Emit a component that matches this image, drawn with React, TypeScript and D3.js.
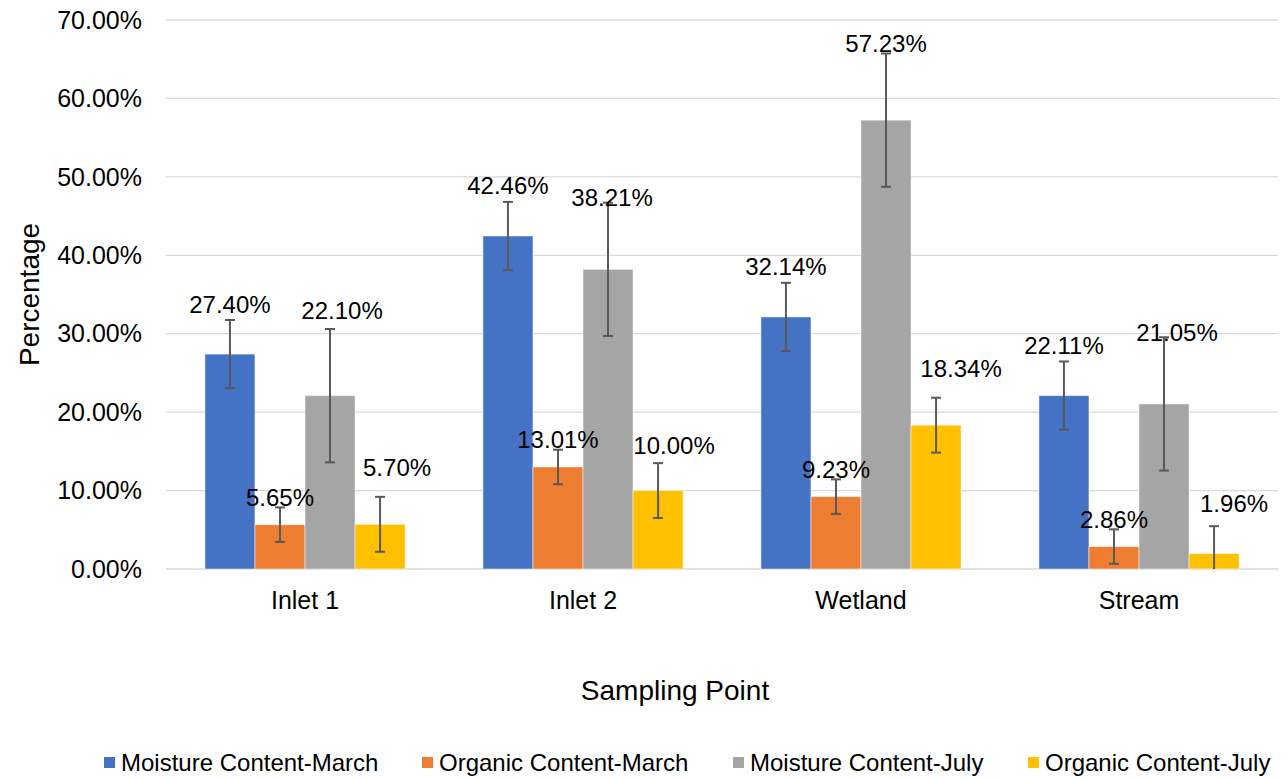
import React from "react";
import * as d3 from "d3";

const categories = ["Inlet 1", "Inlet 2", "Wetland", "Stream"];
const seriesNames = [
  "Moisture Content-March",
  "Organic Content-March",
  "Moisture Content-July",
  "Organic Content-July",
];
const moistureMarch = [27.4, 42.46, 32.14, 22.11];
const organicMarch = [5.65, 13.01, 9.23, 2.86];
const moistureJuly = [22.1, 38.21, 57.23, 21.05];
const organicJuly = [5.7, 10.0, 18.34, 1.96];
const errMoistureMarch = [4.35, 4.35, 4.35, 4.35];
const errOrganicMarch = [2.2, 2.2, 2.2, 2.2];
const errMoistureJuly = [8.5, 8.5, 8.5, 8.5];
const errOrganicJuly = [3.5, 3.5, 3.5, 3.5];
const yTicks = [0, 10, 20, 30, 40, 50, 60, 70];

const seriesValues = [moistureMarch, organicMarch, moistureJuly, organicJuly];
const seriesErrors = [errMoistureMarch, errOrganicMarch, errMoistureJuly, errOrganicJuly];
const colors = ["#4472C4", "#ED7D31", "#A5A5A5", "#FFC000"];

// label nudges (pixels) relative to the bar top centre: [dx, dy] per series per category
const labelNudge = [
  [[0, -50], [0, -50], [0, -50], [0, -50]],
  [[0, -27], [0, -27], [0, -27], [0, -27]],
  [[12, -85], [4, -72], [0, -77], [13, -71]],
  [[17, -57], [16, -45], [25, -57], [20, -50]],
];

export default function App() {
  const W = 1288, H = 779;
  const left = 166, right = 1278, top = 20, bottom = 569;
  const y = d3.scaleLinear().domain([0, 70]).range([bottom, top]);
  const x0 = d3.scaleBand<string>().domain(categories).range([left, right]).paddingInner(0.28).paddingOuter(0.14);
  const x1 = d3.scaleBand<number>().domain([0, 1, 2, 3]).range([0, x0.bandwidth()]).padding(0);
  const font = "'Liberation Sans', Arial, sans-serif";

  const legendX = [104, 422, 733, 1028];

  return (
    <svg width={W} height={H} style={{ position: "absolute", left: 0, top: 0, background: "#fff" }} fontFamily={font}>
      {yTicks.map((t) => (
        <g key={t}>
          <line x1={left} x2={right} y1={y(t)} y2={y(t)} stroke="#D9D9D9" strokeWidth={1.3} />
          <text x={142} y={y(t)} dy="0.35em" textAnchor="end" fontSize={25} fill="#000">
            {t.toFixed(2)}%
          </text>
        </g>
      ))}
      {categories.map((c, ci) => (
        <g key={c}>
          {seriesValues.map((vals, si) => {
            const bx = (x0(c) as number) + (x1(si) as number);
            const bw = x1.bandwidth();
            return (
              <rect key={si} x={bx} y={y(vals[ci])} width={bw} height={y(0) - y(vals[ci])}
                fill={colors[si]} stroke="#fff" strokeOpacity={0.5} strokeWidth={1} />
            );
          })}
          {seriesValues.map((vals, si) => {
            const cx = (x0(c) as number) + (x1(si) as number) + x1.bandwidth() / 2;
            const v = vals[ci];
            const e = seriesErrors[si][ci];
            const hi = v + e;
            const lo = Math.max(0, v - e);
            const clipped = v - e < 0;
            return (
              <g key={"e" + si} stroke="#595959" strokeWidth={2}>
                <line x1={cx} x2={cx} y1={y(hi)} y2={y(lo)} />
                <line x1={cx - 5} x2={cx + 5} y1={y(hi)} y2={y(hi)} />
                {!clipped && <line x1={cx - 5} x2={cx + 5} y1={y(lo)} y2={y(lo)} />}
              </g>
            );
          })}
          {seriesValues.map((vals, si) => {
            const cx = (x0(c) as number) + (x1(si) as number) + x1.bandwidth() / 2;
            const [dx, dy] = labelNudge[si][ci];
            return (
              <text key={"l" + si} x={cx + dx} y={y(vals[ci]) + dy} dy="0.35em" textAnchor="middle" fontSize={24} fill="#000">
                {vals[ci].toFixed(2)}%
              </text>
            );
          })}
          <text x={(x0(c) as number) + x0.bandwidth() / 2} y={600} dy="0.35em" textAnchor="middle" fontSize={25} fill="#000">
            {c}
          </text>
        </g>
      ))}
      <text transform={`translate(29,${(top + bottom) / 2}) rotate(-90)`} textAnchor="middle" dy="0.35em" fontSize={28} fill="#000">
        Percentage
      </text>
      <text x={(left + right) / 2 - 47} y={690} dy="0.35em" textAnchor="middle" fontSize={28} fill="#000">
        Sampling Point
      </text>
      {seriesNames.map((n, i) => (
        <g key={n}>
          <rect x={legendX[i]} y={757} width={11} height={11} fill={colors[i]} />
          <text x={legendX[i] + 17} y={763} dy="0.35em" fontSize={24} fill="#000">
            {n}
          </text>
        </g>
      ))}
    </svg>
  );
}
